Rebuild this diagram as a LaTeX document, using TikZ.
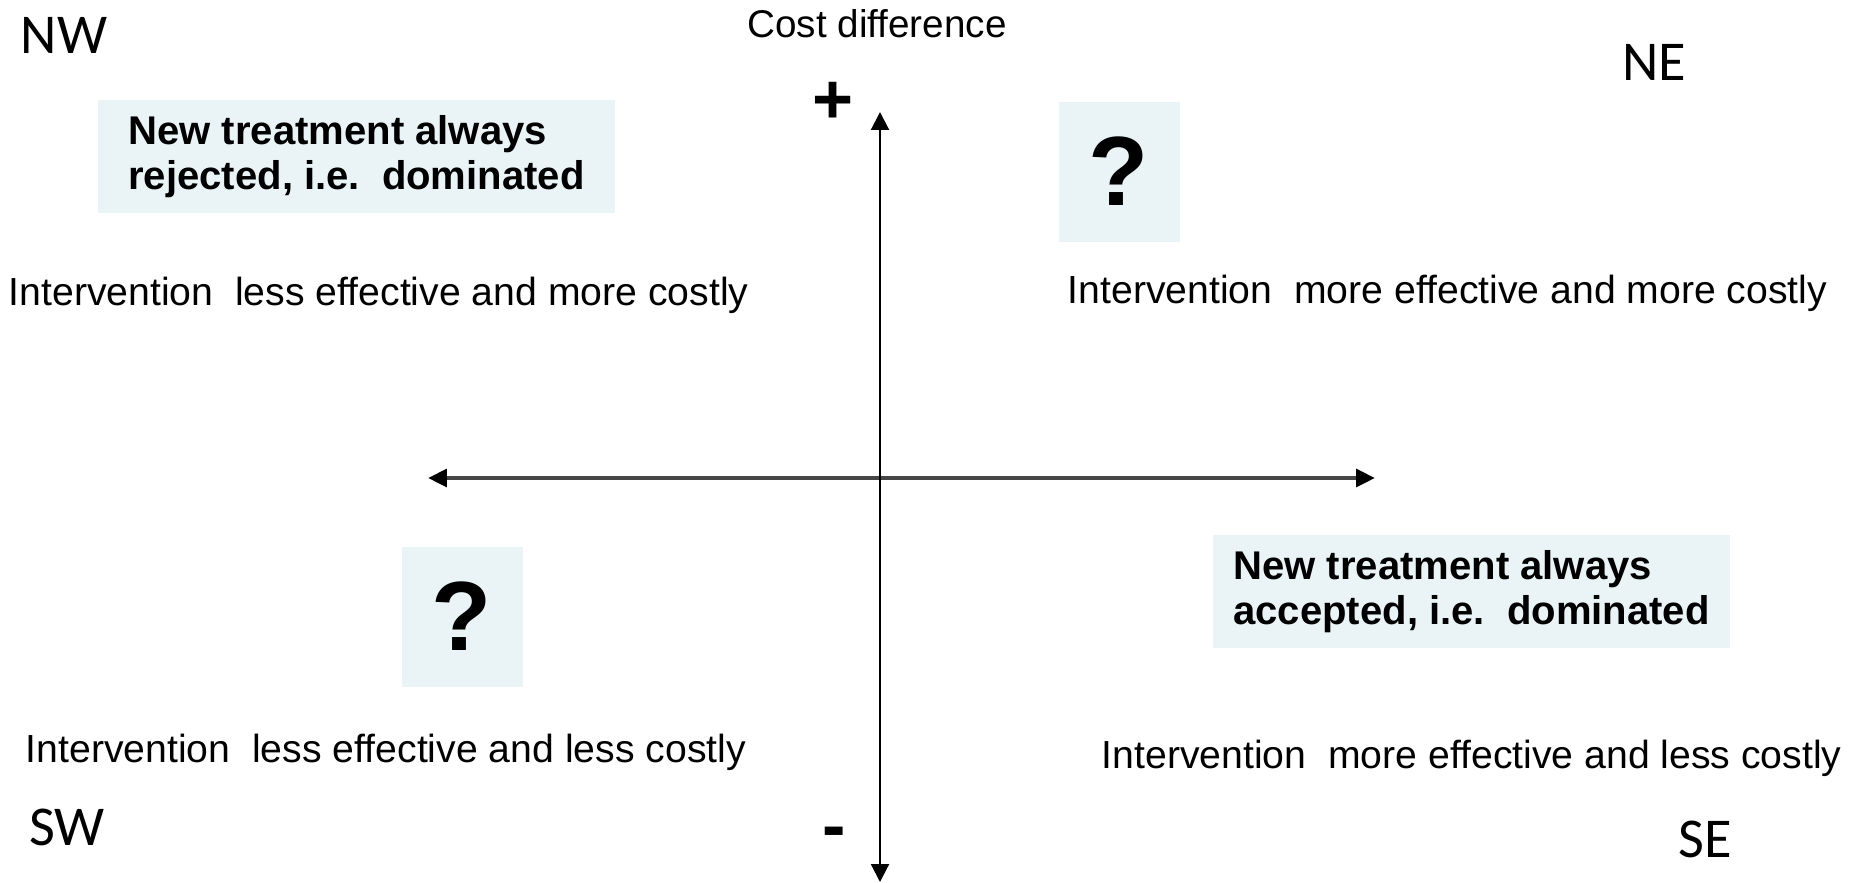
\documentclass[tikz,border=0pt]{standalone}
\usepackage{fontspec}
\setmainfont{Liberation Sans}
\newfontfamily\calibrifont{Carlito}
\usetikzlibrary{arrows.meta}
\definecolor{boxblue}{RGB}{234,243,246}
\definecolor{axisgray}{RGB}{70,70,70}

\begin{document}
\begin{tikzpicture}[x=0.1mm,y=-0.1mm,
    quadlabel/.style={font=\calibrifont\fontsize{16}{19}\selectfont, inner sep=0pt},
    quadtext/.style={font=\fontsize{11.15}{13}\selectfont, anchor=base west, inner sep=0pt},
    verdict/.style={fill=boxblue, font=\bfseries\fontsize{11.4}{12.6}\selectfont, align=left,
      minimum width=51.7mm, minimum height=11.3mm, inner sep=0pt},
    query/.style={fill=boxblue, font=\bfseries\fontsize{28}{30}\selectfont,
      minimum width=12.1mm, minimum height=14mm, inner sep=0pt},
    sign/.style={font=\bfseries\fontsize{20}{22}\selectfont, inner sep=0pt}]
        % 画布大小
        \useasboundingbox (0,0) rectangle (1854,882);

        % 坐标轴
        \coordinate (xneg) at (428,478);
        \coordinate (xpos) at (1375,478);
        \coordinate (ypos) at (880,112);
        \coordinate (yneg) at (880,882);
        \draw[axisgray, line width=1.2pt,
          {Triangle[width=5pt,length=5.4pt,color=black]}-{Triangle[width=5pt,length=5.4pt,color=black]}] (xneg) -- (xpos);
        \draw[line width=0.6pt,
          {Triangle[width=5.1pt,length=5.1pt]}-{Triangle[width=5.1pt,length=5.1pt]}] (yneg) -- (ypos);
        \node[anchor=base, font=\fontsize{11}{13}\selectfont, inner sep=0pt] (ylabel) at (877,37) {Cost difference};
        \node[sign] (plus) at (833,103) {+};
        \node[sign, anchor=base] (minus) at (834,849) {-};

        % 四个象限名称
        \node[quadlabel] (nw) at (64,35) {NW};
        \node[quadlabel] (ne) at (1654,62) {NE};
        \node[quadlabel] (sw) at (67,827) {SW};
        \node[quadlabel] (se) at (1705,839) {SE};

        % 象限说明
        \node[quadtext] (nwtext) at (8,305) {Intervention\ \ less effective and more costly};
        \node[quadtext] (netext) at (1067,303) {Intervention\ \ more effective and more costly};
        \node[quadtext] (swtext) at (25,762) {Intervention\ \ less effective and less costly};
        \node[quadtext] (setext) at (1101,768) {Intervention\ \ more effective and less costly};

        % 判定框
        \node[verdict] (rejected) at (356.5,156.5) {New treatment always\\rejected, i.e.\hspace{0.55em}dominated};
        \node[verdict] (accepted) at (1471.5,591.5) {New treatment always\\accepted, i.e.\hspace{0.55em}dominated};
        \node[query] (neq) at (1119,171.5) {?};
        \node[query] (swq) at (462,616.5) {?};
      \end{tikzpicture}
\end{document}
